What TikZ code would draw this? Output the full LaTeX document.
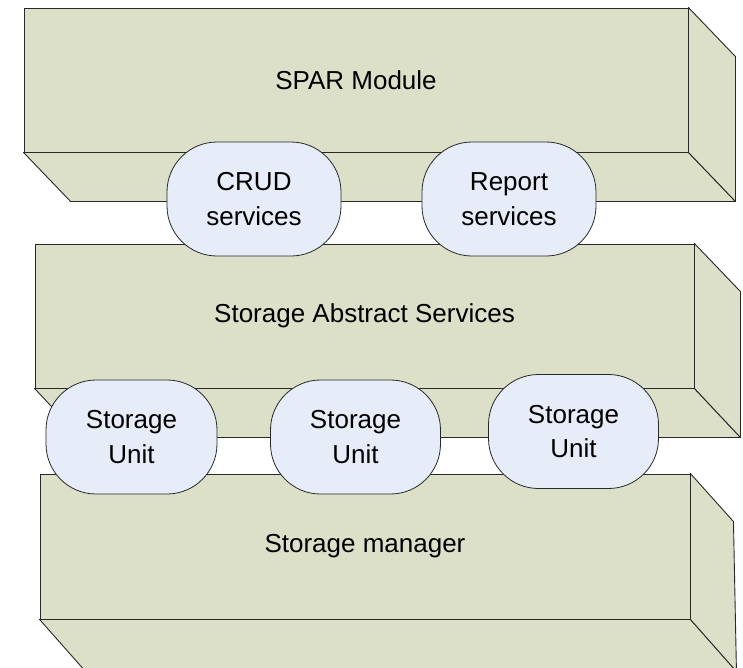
\documentclass[tikz,border=0pt]{standalone}
\usepackage{fontspec}
\setmainfont{Liberation Sans}
\usetikzlibrary{calc}
\pgfdeclarelayer{background}
\pgfsetlayers{background,main}
\definecolor{slabfill}{RGB}{221,224,201}
\definecolor{unitfill}{RGB}{230,236,248}
\definecolor{edgecol}{RGB}{40,40,40}
\begin{document}
\begin{tikzpicture}[x=1pt,y=-1pt,
  slabface/.style={draw=edgecol, line width=0.9pt, fill=slabfill, inner sep=0pt,
    font=\fontsize{26}{34}\selectfont},
  slabside/.style={draw=edgecol, line width=0.9pt, fill=slabfill, line join=round},
  unit/.style={draw=edgecol, line width=0.8pt, fill=unitfill, rounded corners=50pt,
    minimum height=114pt, inner sep=0pt, align=center,
    font=\fontsize{26}{34.5}\selectfont}]
\useasboundingbox (0,0) rectangle (743,667);

% three stacked slabs: front face as a node, bottom and right faces behind it
\node[slabface, minimum width=664pt, minimum height=144pt] (spar) at (356,80) {SPAR Module};
\node[slabface, minimum width=659pt, minimum height=144pt] (sas) at (364.5,316) {Storage Abstract Services};
\node[slabface, minimum width=650pt, minimum height=145pt] (mgr) at (365,546.5) {Storage manager};

\begin{pgfonlayer}{background}
  \draw[slabside] (spar.south west) -- (spar.south east) -- ++(47,49)
    -- ($(spar.south west)+(47,49)$) -- cycle;
  \draw[slabside] (spar.north east) -- ++(47,49) -- ($(spar.south east)+(47,49)$)
    -- (spar.south east) -- cycle;
  \draw[slabside] (sas.south west) -- (sas.south east) -- ++(46,49)
    -- ($(sas.south west)+(46,49)$) -- cycle;
  \draw[slabside] (sas.north east) -- ++(46,48) -- ($(sas.south east)+(46,49)$)
    -- (sas.south east) -- cycle;
  \draw[slabside] (mgr.south west) -- (mgr.south east) -- ++(46,52)
    -- ($(mgr.south west)+(46,52)$) -- cycle;
  \draw[slabside] (mgr.north east) -- ++(43,48) -- ($(mgr.south east)+(46,52)$)
    -- (mgr.south east) -- cycle;
\end{pgfonlayer}

% service interfaces between the upper slabs
\node[unit, minimum width=174pt] (crud) at (254,199) {CRUD\\services};
\node[unit, minimum width=174pt] (report) at (509,199) {Report\\services};

% storage units between the lower slabs
\node[unit, minimum width=171pt] (su1) at (131.5,437) {Storage\\Unit};
\node[unit, minimum width=170pt] (su2) at (355.5,437) {Storage\\Unit};
\node[unit, minimum width=170pt] (su3) at (573.5,431.5) {Storage\\Unit};
\end{tikzpicture}
\end{document}
